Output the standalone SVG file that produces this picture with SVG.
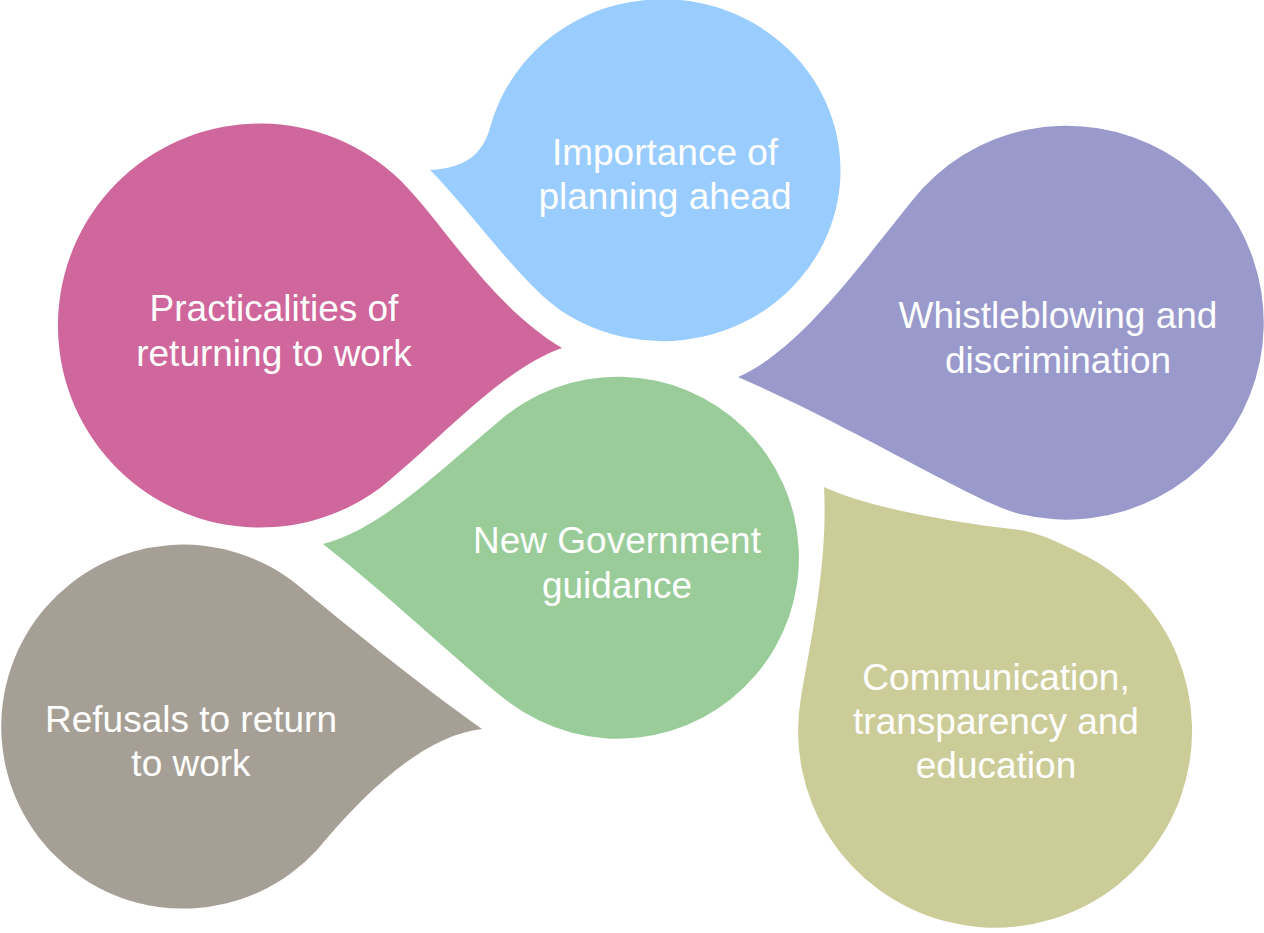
<svg xmlns="http://www.w3.org/2000/svg" width="1264" height="933" viewBox="0 0 1264 933">
<style>
.lbl{font-family:"Liberation Sans",Arial,sans-serif;font-size:37px;fill:#ffffff;text-anchor:middle}
</style>
<rect width="1264" height="933" fill="#ffffff"/>
<g id="node-planning">
<path fill="#99CCFF" d="M430,170 C465,168 482,155 490,128 A178,171 0 1 1 560,310 C520,282 470,210 430,170 Z"/>
<text class="lbl" x="665" y="165">Importance of</text>
<text class="lbl" x="665" y="209">planning ahead</text>
</g>
<g id="node-practicalities">
<path fill="#CF669C" d="M562,348 C500,370 440,440 380,488 A202,202 0 1 1 400,180 C445,225 490,305 562,348 Z"/>
<text class="lbl" x="274" y="321">Practicalities of</text>
<text class="lbl" x="274" y="366">returning to work</text>
</g>
<g id="node-whistleblowing">
<path fill="#9999CC" d="M738,377 C800,350 860,265 911,202 A197,197 0 1 1 1020,514 C980,505 850,425 738,377 Z"/>
<text class="lbl" x="1058" y="328">Whistleblowing and</text>
<text class="lbl" x="1058" y="373">discrimination</text>
</g>
<g id="node-guidance">
<path fill="#99CC99" d="M323,544 C380,530 440,470 497,423 A181,181 0 1 1 510,703 C470,673 400,605 323,544 Z"/>
<text class="lbl" x="617" y="553">New Government</text>
<text class="lbl" x="617" y="598">guidance</text>
</g>
<g id="node-refusals">
<path fill="#A69F96" d="M482,729 C430,735 375,780 317,850 A182,182 0 1 1 300,587 C340,620 420,685 482,729 Z"/>
<text class="lbl" x="191" y="732">Refusals to return</text>
<text class="lbl" x="191" y="776">to work</text>
</g>
<g id="node-communication">
<path fill="#CCCC99" d="M824,487 C870,508 950,522 1020,530 C1040,533 1060,543 1078,552 A197,197 0 1 1 801,697 C812,635 828,560 824,487 Z"/>
<text class="lbl" x="996" y="690">Communication,</text>
<text class="lbl" x="996" y="734">transparency and</text>
<text class="lbl" x="996" y="778">education</text>
</g>
</svg>
